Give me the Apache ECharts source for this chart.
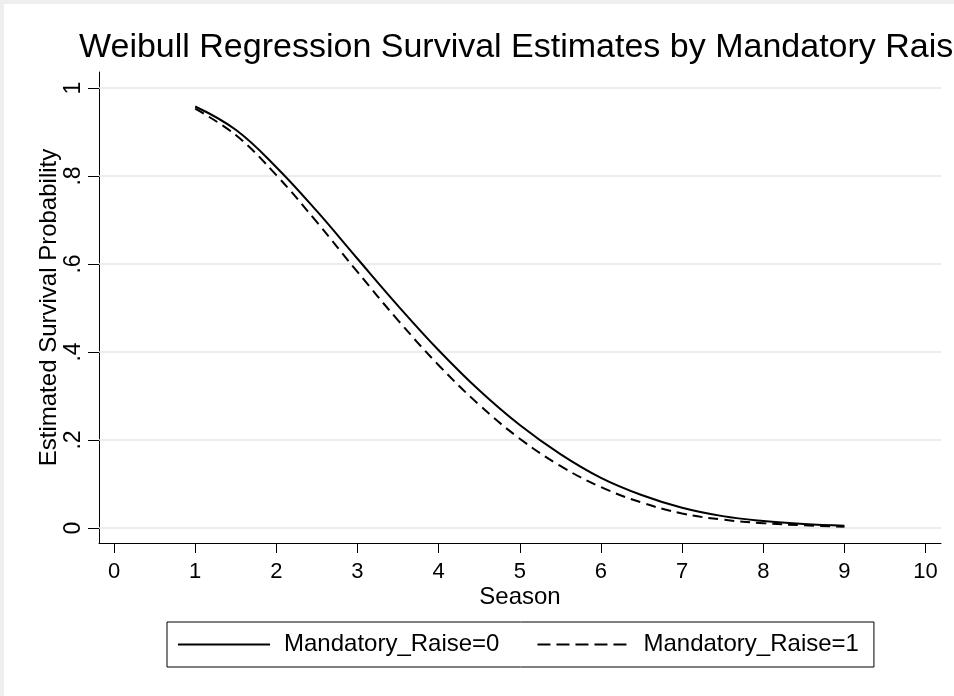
<!DOCTYPE html>
<html>
<head>
<meta charset="utf-8">
<script src="https://cdn.jsdelivr.net/npm/echarts@6/dist/echarts.min.js"></script>
<style>
html,body{margin:0;padding:0;background:#eeeeee;}
#frame{position:absolute;left:4px;top:4px;width:950px;height:692px;background:#ffffff;}
#chart{position:absolute;left:-4px;top:-4px;width:954px;height:696px;}
</style>
</head>
<body>
<div id="frame"><div id="chart"></div></div>
<script>
const titleText = 'Weibull Regression Survival Estimates by Mandatory Raise';
const xName = 'Season';
const yName = 'Estimated Survival Probability';
const seriesNames = ['Mandatory_Raise=0', 'Mandatory_Raise=1'];
const seasons = [1, 1.5, 2, 2.5, 3, 3.5, 4, 4.5, 5, 5.5, 6, 6.5, 7, 7.5, 8, 8.5, 9];
const survival0 = [0.958, 0.905, 0.820, 0.720, 0.612, 0.505, 0.404, 0.313, 0.234, 0.168, 0.114, 0.075, 0.046, 0.027, 0.016, 0.009, 0.005];
const survival1 = [0.953, 0.893, 0.802, 0.695, 0.582, 0.472, 0.370, 0.280, 0.203, 0.141, 0.093, 0.058, 0.033, 0.019, 0.011, 0.006, 0.003];
const xTicks = [0, 1, 2, 3, 4, 5, 6, 7, 8, 9, 10];
const yTicks = [0, 0.2, 0.4, 0.6, 0.8, 1];

const FONT = "'Liberation Sans', Arial, sans-serif";
const chart = echarts.init(document.getElementById('chart'), null, {renderer: 'canvas'});

function pairs(xs, ys) { return xs.map((x, i) => [x, ys[i]]); }
function yFmt(v) {
  if (Math.abs(v) < 1e-9) return '0';
  if (Math.abs(v - 1) < 1e-9) return '1';
  return String(Math.round(v * 10) / 10).replace(/^0\./, '.');
}

const option = {
  backgroundColor: 'transparent',
  animation: false,
  textStyle: {fontFamily: FONT, color: '#000'},
  title: {
    text: titleText,
    left: 79, top: 31,
    padding: 0,
    textStyle: {fontFamily: FONT, fontSize: 34, fontWeight: 'normal', color: '#000'}
  },
  grid: {left: 99, right: 13, top: 72, bottom: 153, containLabel: false},
  xAxis: {
    type: 'value',
    min: -0.185, max: 10.19,
    name: xName,
    nameLocation: 'middle',
    nameGap: 42,
    nameMoveOverlap: false,
    nameTextStyle: {fontFamily: FONT, fontSize: 24, color: '#000'},
    axisLine: {show: true, onZero: false, lineStyle: {color: '#000', width: 1}},
    axisTick: {show: true, inside: false, length: 10, customValues: xTicks, lineStyle: {color: '#000', width: 1}},
    axisLabel: {show: true, customValues: xTicks, margin: 18, fontFamily: FONT, fontSize: 22, color: '#000', formatter: v => String(Math.round(v))},
    splitLine: {show: false}
  },
  yAxis: {
    type: 'value',
    min: -0.0341, max: 1.0364,
    name: yName,
    nameLocation: 'middle',
    nameGap: 38,
    nameMoveOverlap: false,
    nameRotate: 90,
    nameTextStyle: {fontFamily: FONT, fontSize: 24, color: '#000'},
    axisLine: {show: true, onZero: false, lineStyle: {color: '#000', width: 1}},
    axisTick: {show: true, inside: false, length: 11, customValues: yTicks, lineStyle: {color: '#000', width: 1}},
    axisLabel: {show: true, customValues: yTicks, rotate: 90, margin: 14, fontFamily: FONT, fontSize: 23, color: '#000', formatter: yFmt},
    splitLine: {show: false}
  },
  legend: {
    left: 167, top: 622,
    orient: 'horizontal',
    padding: [9, 15, 9, 10],
    itemGap: 37,
    itemWidth: 92,
    itemHeight: 14,
    borderColor: '#000',
    borderWidth: 1,
    backgroundColor: '#fff',
    textStyle: {fontFamily: FONT, fontSize: 24, color: '#000', lineHeight: 27, padding: [0, 0, 0, 9]},
    data: [
      {name: seriesNames[0], itemStyle: {opacity: 0}, lineStyle: {color: '#000', width: 2, type: 'solid'}},
      {name: seriesNames[1], itemStyle: {opacity: 0}, lineStyle: {color: '#000', width: 2, type: [13, 6]}}
    ]
  },
  series: [
    {
      name: seriesNames[0],
      type: 'line',
      data: pairs(seasons, survival0),
      smooth: 0.4,
      showSymbol: false,
      symbol: 'none',
      lineStyle: {color: '#000', width: 2, type: 'solid'},
      itemStyle: {color: '#000'},
      z: 3,
      markLine: {
        silent: true,
        symbol: ['none', 'none'],
        z: 1,
        label: {show: false},
        lineStyle: {color: '#e6e6e6', width: 1.5, type: 'solid'},
        emphasis: {disabled: true},
        data: yTicks.map(v => ({yAxis: v}))
      }
    },
    {
      name: seriesNames[1],
      type: 'line',
      data: pairs(seasons, survival1),
      smooth: 0.4,
      showSymbol: false,
      symbol: 'none',
      lineStyle: {color: '#000', width: 2, type: [10, 6]},
      itemStyle: {color: '#000'},
      z: 3
    }
  ]
};
chart.setOption(option);
</script>
</body>
</html>
